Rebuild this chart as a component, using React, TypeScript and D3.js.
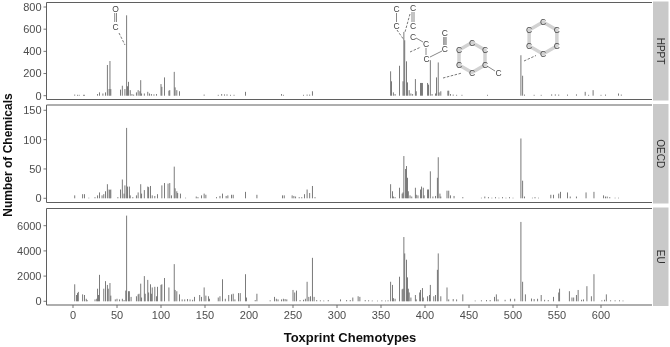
import React from "react";
import * as d3 from "d3";

type P = [number, number];

const hpptValues: P[] = [
[2,10],[5,8],[7,8],[12,8],[13,8],[28,15],[30,30],[34,20],[37,30],[39,277],[41,60],[42,313],[43,60],
[54,55],[56,90],[59,60],[61,725],[62,85],[63,125],[65,50],[67,15],[69,10],[72,30],[74,50],[76,40],[77,140],[78,20],[81,20],[85,35],[87,20],[89,15],[92,12],[95,15],[100,105],[101,80],[104,165],
[109,45],[110,50],[115,215],[116,75],[118,50],[121,40],[149,10],[165,8],[169,15],[172,12],[175,12],[179,8],[183,8],[196,35],[237,15],[239,8],[262,8],[266,10],[269,10],[272,40],
[361,220],[362,130],[364,30],[366,15],[371,270],[375,130],[376,575],[377,500],[379,310],[380,120],[382,50],[384,20],[386,15],[389,150],[390,40],[395,115],[396,115],[397,115],[403,115],[404,100],[406,320],[408,15],[412,20],[413,165],[415,300],[416,30],[418,40],[426,45],[427,45],[429,15],[432,10],[436,8],[442,8],[471,8],
[509,365],[511,180],[513,10],[524,8],[532,8],[544,12],[548,12],[552,10],[562,10],[572,12],[582,35],[586,8],[591,50],[600,8],[605,10],[620,20],[623,10],
];

const oecdValues: P[] = [
[2,5],[11,7],[13,7],[18,1],[25,2],[28,5],[30,10],[33,5],[35,7],[37,12],[39,24],[41,15],[42,14],[43,15],
[51,2],[54,15],[56,32],[58,8],[59,22],[61,120],[62,20],[64,20],[65,5],[68,2],[72,5],[74,10],[77,24],[78,8],[81,14],[85,20],[86,19],[88,21],[90,5],[93,4],[96,7],[101,22],[104,26],
[108,25],[110,26],[112,5],[115,54],[116,17],[118,12],[119,9],[122,8],[128,1],[140,3],[142,2],[146,5],[149,8],[151,6],[163,2],[167,4],[170,8],[174,4],[176,5],[180,6],[182,6],[196,11],[209,6],[238,5],[240,5],[249,5],[251,4],[253,3],[257,2],[260,2],[263,7],[266,15],[269,9],[272,21],[275,2],
[361,24],[363,12],[364,3],[366,2],[371,18],[374,8],[375,10],[376,72],[378,50],[379,55],[380,35],[381,12],[383,5],[385,3],[389,18],[390,6],[392,5],[395,15],[396,20],[398,18],[399,5],[403,15],[404,15],[406,46],[409,3],[412,4],[414,35],[415,70],[417,8],[418,3],[425,13],[427,13],[429,5],[433,4],[443,2],[464,1],[468,3],[472,2],[476,1],[480,2],[484,1],[488,2],[492,1],[496,2],[500,1],
[509,102],[511,30],[513,3],[522,1],[525,2],[529,1],[543,6],[546,6],[552,8],[554,11],[562,10],[565,3],[572,3],[583,10],[592,11],[603,5],[605,3],[607,3],[610,2],[616,1],[620,1],
];

const euValues: P[] = [
[2,1350],[4,500],[5,650],[6,750],[11,550],[13,500],[15,200],[16,100],[25,150],[27,200],[28,1000],[29,500],[30,2100],[35,1000],[37,1600],[39,1300],[40,1000],[42,1450],[43,450],
[48,150],[50,200],[53,150],[56,200],[58,100],[60,850],[61,6800],[63,800],[64,800],[66,350],[72,400],[74,550],[75,600],[77,1400],[78,300],[81,2000],[82,600],[85,1700],[86,700],[88,1350],[89,600],[90,1100],[93,1150],[95,400],[96,1150],[100,1300],[101,1350],[104,1850],
[109,1100],[115,2950],[116,900],[118,800],[121,550],[124,150],[127,150],[130,180],[133,150],[136,120],[138,350],[144,500],[146,350],[149,1100],[151,450],[154,400],[155,200],[165,300],[167,400],[170,1750],[173,200],[177,500],[180,550],[182,600],[184,150],[188,650],[190,650],[196,2150],[197,300],[207,100],[209,600],[224,80],[229,350],[231,200],[233,150],[237,150],[239,200],[241,180],[243,150],[250,900],[252,700],[254,850],[258,100],[262,120],[264,200],[266,1550],[268,350],[270,400],[272,3450],[274,350],[277,100],[281,80],[285,60],[290,100],
[304,150],[311,100],[315,100],[318,300],[324,400],[326,350],[332,100],[336,80],[340,60],[346,50],[351,80],[355,60],[358,80],
[361,1550],[363,1300],[364,250],[366,200],[371,1950],[374,950],[375,1000],[376,5100],[377,3800],[379,3300],[380,1900],[381,1000],[382,700],[384,300],[389,500],[390,150],[394,700],[395,900],[397,1050],[398,300],[403,400],[405,500],[406,1300],[410,400],[412,500],[414,2500],[415,3800],[418,400],[425,1100],[427,150],[432,180],[436,150],[443,550],[457,60],[464,80],[470,100],[474,100],[479,350],[481,550],[483,150],[491,120],[497,200],[502,200],
[509,6300],[511,1550],[514,550],[521,220],[524,180],[528,200],[532,500],[536,120],[540,100],[546,350],[552,700],[553,1000],[564,800],[567,300],[569,300],[572,500],[574,900],[578,120],[580,150],[584,1200],[589,400],[592,2150],[601,80],[604,120],[606,550],[611,80],[616,80],[621,80],[625,60],
];

const xTicks = [0, 50, 100, 150, 200, 250, 300, 350, 400, 450, 500, 550, 600];
const hpptTicks = [0, 200, 400, 600, 800];
const oecdTicks = [0, 50, 100, 150];
const euTicks = [0, 2000, 4000, 6000];

const panels = [
  { name: "HPPT", data: hpptValues, ticks: hpptTicks, top: 2.5, bottom: 99.5, y0: 95.7, yMax: 800, yMaxPx: 7 },
  { name: "OECD", data: oecdValues, ticks: oecdTicks, top: 105, bottom: 202.5, y0: 198.3, yMax: 150, yMaxPx: 110.3 },
  { name: "EU", data: euValues, ticks: euTicks, top: 208.5, bottom: 305, y0: 301.3, yMax: 6000, yMaxPx: 225.7 },
];

const left = 46.5;
const right = 652;
const x = d3.scaleLinear().domain([0, 600]).range([73, 601]);
const font = "'Liberation Sans', Arial, sans-serif";
const gray = "#4d4d4d";

const Atom = ({ x, y, t = "C" }: { x: number; y: number; t?: string }) => (
  <text x={x} y={y + 3} textAnchor="middle" fontFamily={font} fontSize={8.5} fill="#444">{t}</text>
);
const Bond = ({ p }: { p: number[] }) => (
  <line x1={p[0]} y1={p[1]} x2={p[2]} y2={p[3]} stroke="#555" strokeWidth={0.7} />
);
const Dash = ({ p }: { p: number[] }) => (
  <line x1={p[0]} y1={p[1]} x2={p[2]} y2={p[3]} stroke="#555" strokeWidth={0.8} strokeDasharray="2.5 1.5" />
);
const Ring = ({ cx, cy, r }: { cx: number; cy: number; r: number }) => {
  const pts = d3.range(6).map((i) => {
    const a = (Math.PI / 3) * i - Math.PI / 2;
    return [cx + r * Math.cos(a), cy + r * Math.sin(a)];
  });
  return (
    <g>
      <polygon points={pts.map((p) => p.join(",")).join(" ")} fill="none" stroke="#d2d2d2" strokeWidth={3.5} />
      {pts.map((p, i) => <Atom key={i} x={p[0]} y={p[1]} />)}
    </g>
  );
};

export default function App() {
  return (
    <svg width={670} height={347} style={{ position: "absolute", left: 0, top: 0, background: "#fff" }}>
      <defs>
        <filter id="soft" x="-2%" y="-2%" width="104%" height="104%">
          <feGaussianBlur stdDeviation="0.35" />
        </filter>
      </defs>
      <g filter="url(#soft)">
        {panels.map((p) => {
          const y = d3.scaleLinear().domain([0, p.yMax]).range([p.y0, p.yMaxPx]);
          return (
            <g key={p.name}>
              <rect x={653} y={p.top - 1} width={15.5} height={p.bottom - p.top + 2} fill="#c9c9c9" />
              <text
                transform={`translate(660.5,${(p.top + p.bottom) / 2}) rotate(90)`}
                textAnchor="middle"
                dominantBaseline="central"
                fontFamily={font}
                fontSize={10}
                fill="#333"
              >{p.name}</text>
              {p.data.map(([i, v]) => (
                <rect key={i} x={x(i) - 0.4} y={y(v)} width={0.8} height={p.y0 - y(v)} fill="#5a5a5a" />
              ))}
              <path d={`M${right},${p.top}H${left}V${p.bottom}H${right}`} fill="none" stroke="#5f5f5f" strokeWidth={1} />
              {p.ticks.map((t) => (
                <g key={t}>
                  <line x1={43.5} x2={left} y1={y(t)} y2={y(t)} stroke="#555" strokeWidth={0.8} />
                  <text x={41.5} y={y(t) + 3.9} textAnchor="end" fontFamily={font} fontSize={11} fill={gray}>{t}</text>
                </g>
              ))}
            </g>
          );
        })}
        {xTicks.map((t) => (
          <g key={t}>
            <line x1={x(t)} x2={x(t)} y1={305} y2={308} stroke="#555" strokeWidth={0.8} />
            <text x={x(t)} y={319} textAnchor="middle" fontFamily={font} fontSize={11} fill={gray}>{t}</text>
          </g>
        ))}
        <text x={350} y={342} textAnchor="middle" fontFamily={font} fontWeight="bold" fontSize={13} fill="#111">Toxprint Chemotypes</text>
        <text transform="translate(12,155) rotate(-90)" textAnchor="middle" fontFamily={font} fontWeight="bold" fontSize={12} fill="#111">Number of Chemicals</text>

        {/* carbonyl */}
        <Atom x={115.5} y={9} t="O" />
        <Atom x={115.5} y={27} />
        <Bond p={[114.7, 13, 114.7, 22]} />
        <Bond p={[116.5, 13, 116.5, 22]} />
        <Dash p={[119, 33, 125, 45]} />

        {/* chains */}
        <Atom x={396.5} y={9} /><Atom x={396.5} y={26} /><Bond p={[396.5, 13, 396.5, 22]} />
        <Dash p={[397, 30, 404, 40]} />
        <Atom x={413} y={8} /><Atom x={413} y={26} /><Bond p={[412, 12, 412, 22]} /><Bond p={[414, 12, 414, 22]} />
        <Dash p={[410, 14, 405, 32]} />
        <Atom x={413} y={36.5} /><Atom x={426} y={44} /><Atom x={426.5} y={59} />
        <Bond p={[416, 38, 423, 42]} /><Bond p={[426, 48, 426, 55]} />
        <Dash p={[410, 52, 421, 47]} />
        <Atom x={444.7} y={33} /><Atom x={444.7} y={49} />
        <Bond p={[443.7, 37, 443.7, 45]} /><Bond p={[444.9, 37, 444.9, 45]} /><Bond p={[446.1, 37, 446.1, 45]} />
        <Bond p={[442, 51, 430, 57]} />

        {/* rings */}
        <Ring cx={472} cy={57.5} r={15} />
        <Atom x={498.5} y={72.5} />
        <Bond p={[487, 66, 495, 71]} />
        <Dash p={[443, 78, 462, 73]} />
        <Ring cx={543} cy={38} r={16} />
        <Dash p={[524, 61, 536, 55.5]} />
      </g>
    </svg>
  );
}
